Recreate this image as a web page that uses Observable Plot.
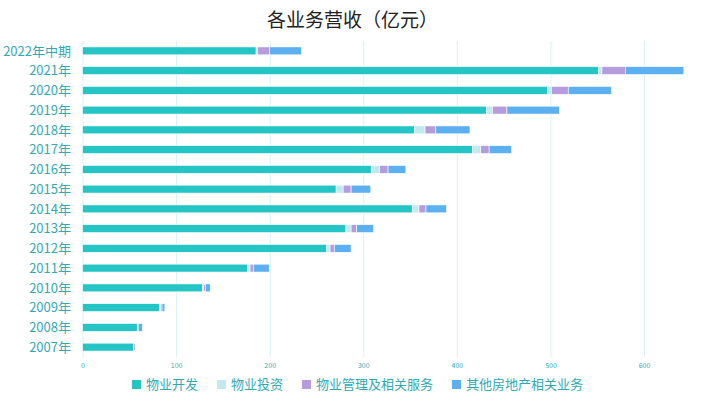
<!DOCTYPE html>
<html>
<head>
<meta charset="utf-8">
<script src="https://cdn.jsdelivr.net/npm/d3@7"></script>
<script src="https://cdn.jsdelivr.net/npm/@observablehq/plot@0.6"></script>
<style>
  body { margin: 0; background: #fff; font-family: "Noto Sans CJK SC", "Noto Sans", sans-serif; }
  #wrap { width: 705px; height: 397px; position: relative; overflow: hidden; }
  #title { height: 40px; line-height: 38px; text-align: center; font-size: 19px; color: #222; }
  #legend { display: flex; justify-content: center; gap: 19px; font-size: 13px; color: #30a9b2; height: 20px; line-height: 20px; margin-top: -1px; padding-left: 10px; }
  #legend span.item { display: flex; align-items: center; }
  #legend i { display: inline-block; width: 9px; height: 9px; margin-right: 5px; }
</style>
</head>
<body>
<div id="wrap">
  <div id="title">各业务营收（亿元）</div>
  <div id="chart"></div>
  <div id="legend"></div>
</div>
<script>
const categories = ["2022年中期","2021年","2020年","2019年","2018年","2017年","2016年","2015年","2014年","2013年","2012年","2011年","2010年","2009年","2008年","2007年"];
const seriesNames = ["物业开发","物业投资","物业管理及相关服务","其他房地产相关业务"];
const colors = ["#25c4c5","#c2e9ee","#b59ddd","#5cb0ef"];
const development = [185.5,551.5,497,431.5,355,416.5,308.5,271,352.5,281.5,261,176.5,128,82.5,58.5,54.5];
const investment  = [1.5,3.5,4,6.5,11,9,9,7.5,7,5.5,3.5,2.5,1.5,1,0.5,0.5];
const management  = [13,25,18,15.5,11.5,9,9,8.5,7.5,6,4.5,3.5,2,1.5,0.5,1.5];
const otherRE     = [34,62.5,46,56,36.5,24,19,21,22,18,18,17,5,3,4.5,0.5];
const xTicks = [0,100,200,300,400,500,600];

const seriesValues = [development, investment, management, otherRE];
const rows = [];
seriesNames.forEach((s, si) => {
  categories.forEach((c, ci) => rows.push({category: c, series: s, value: seriesValues[si][ci]}));
});

const textColor = "#35a9b1";
const chart = Plot.plot({
  width: 705,
  height: 335,
  marginTop: 1,
  marginBottom: 18,
  marginLeft: 82.5,
  marginRight: 20.7,
  style: { fontFamily: '"Noto Sans CJK SC", "Noto Sans", sans-serif', background: "transparent" },
  x: { domain: [0, 643], ticks: xTicks, label: null },
  y: { domain: categories, paddingInner: 0.6, paddingOuter: 0.3, round: false, label: null },
  color: { domain: seriesNames, range: colors },
  marks: [
    Plot.gridX(xTicks, { stroke: "#d9f2f6", strokeOpacity: 1, strokeWidth: 1 }),
    Plot.barX(rows, Plot.stackX({ y: "category", x: "value", fill: "series", z: "series", stroke: "#ffffff", strokeWidth: 0.6, inset: 0 })),
    Plot.axisX(xTicks, { tickSize: 0, tickPadding: 6, fontSize: 7, fill: textColor, label: null }),
    Plot.axisY({ tickSize: 0, tickPadding: 12, fontSize: 13, fill: textColor, label: null })
  ]
});
document.getElementById("chart").appendChild(chart);

const legend = document.getElementById("legend");
seriesNames.forEach((s, i) => {
  const item = document.createElement("span");
  item.className = "item";
  const sw = document.createElement("i");
  sw.style.background = colors[i];
  item.appendChild(sw);
  item.appendChild(document.createTextNode(s));
  legend.appendChild(item);
});
</script>
</body>
</html>
